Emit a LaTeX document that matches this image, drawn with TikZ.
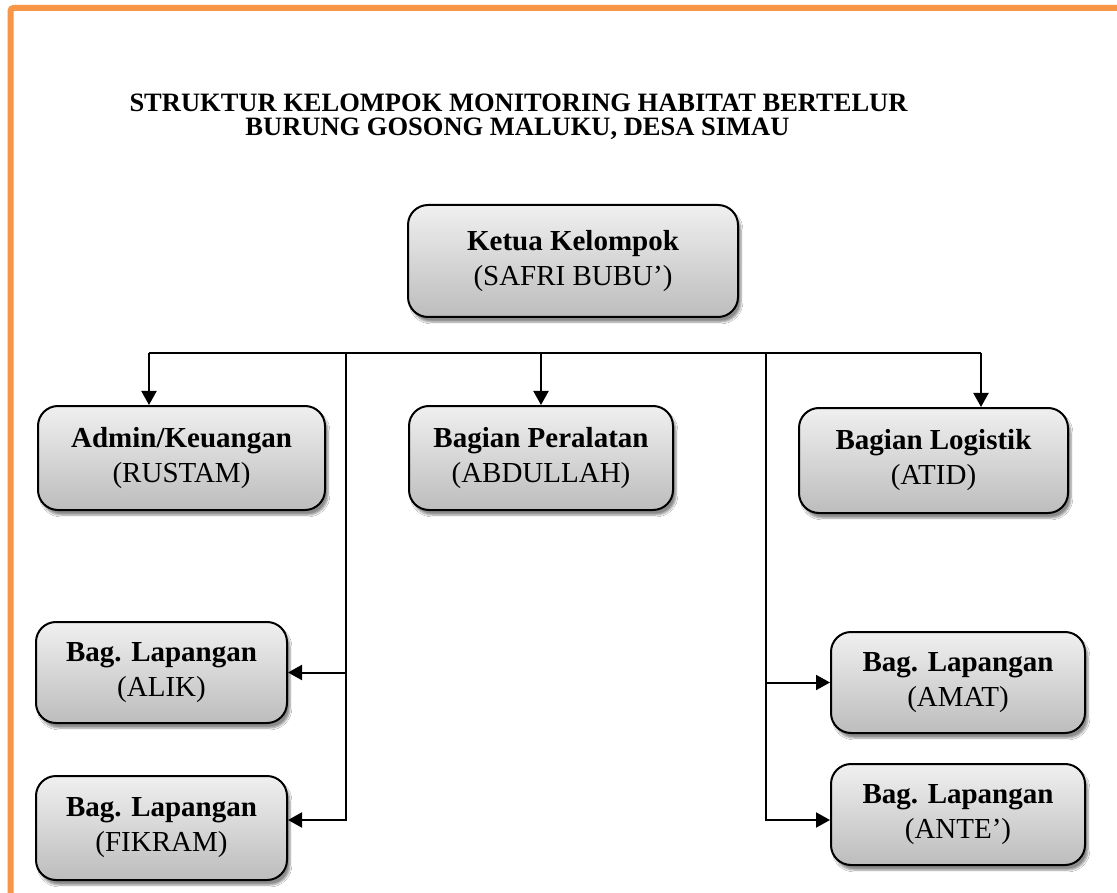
\documentclass[tikz,border=0pt]{standalone}
\usepackage{fontspec}
\setmainfont{Liberation Serif}
\usetikzlibrary{arrows.meta,shadows.blur}
\definecolor{frameorange}{HTML}{F79646}
\tikzset{
  box/.style={draw=black, line width=2pt, rounded corners=20pt,
    top color=gray!12, bottom color=gray!52, align=center,
    inner sep=0pt, font=\fontsize{29}{35}\selectfont,
    blur shadow={shadow xshift=3pt, shadow yshift=-5pt, shadow blur steps=6, shadow opacity=45}},
  conn/.style={line width=2pt, draw=black},
  arr/.style={conn, -{Triangle[length=14pt,width=15pt]}},
  titletext/.style={anchor=base, inner sep=0pt, font=\fontsize{26.5}{30}\selectfont\bfseries},
}
\begin{document}
\begin{tikzpicture}[x=1pt,y=-1pt]
\useasboundingbox (0,0) rectangle (1117,893);
\fill[white] (0,0) rectangle (1117,893);
% orange frame
\draw[frameorange, line width=6pt, rounded corners=3pt] (10.5,900) -- (10.5,8) -- (1125,8);
% title
\node[titletext] (title1) at (518.5,112) {STRUKTUR KELOMPOK MONITORING HABITAT BERTELUR};
\node[titletext] (title2) at (517.5,135.5) {BURUNG GOSONG MALUKU, DESA SIMAU};
% boxes
\node[box, minimum width=330pt, minimum height=112pt] (ketua) at (573,261) {\textbf{Ketua Kelompok}\\(SAFRI BUBU’)};
\node[box, minimum width=287pt, minimum height=104pt] (admin) at (181.5,458) {\textbf{Admin/Keuangan}\\(RUSTAM)};
\node[box, minimum width=264pt, minimum height=104pt] (peral) at (541,458) {\textbf{Bagian Peralatan}\\(ABDULLAH)};
\node[box, minimum width=269pt, minimum height=105pt] (logis) at (933.5,460.5) {\textbf{Bagian Logistik}\\(ATID)};
\node[box, minimum width=251pt, minimum height=101pt] (alik) at (161.5,672.5) {\textbf{Bag. Lapangan}\\(ALIK)};
\node[box, minimum width=251pt, minimum height=104pt] (fikram) at (161.5,828) {\textbf{Bag. Lapangan}\\(FIKRAM)};
\node[box, minimum width=254pt, minimum height=101pt] (amat) at (958,682.5) {\textbf{Bag. Lapangan}\\(AMAT)};
\node[box, minimum width=254pt, minimum height=101pt] (ante) at (958,814.5) {\textbf{Bag. Lapangan}\\(ANTE’)};
% connector points
\coordinate (hl) at (149,353);
\coordinate (hr) at (981,353);
\coordinate (vl) at (346,353);
\coordinate (vr) at (766,353);
\draw[conn] (hl) -- (hr);
\draw[arr] (hl) -- (hl |- admin.north);
\draw[arr] (peral.north |- hl) -- (peral.north);
\draw[arr] (hr) -- (hr |- logis.north);
\draw[arr] (vl) |- ([yshift=8pt]fikram.east);
\draw[arr] (vl |- alik.east) -- (alik.east);
\draw[arr] (vr) |- ([yshift=-5.5pt]ante.west);
\draw[arr] (vr |- amat.west) -- (amat.west);
\end{tikzpicture}
\end{document}
